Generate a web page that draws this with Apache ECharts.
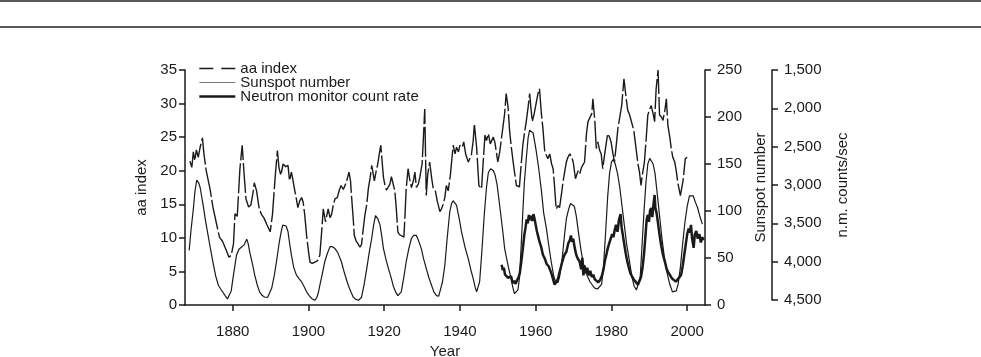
<!DOCTYPE html>
<html>
<head>
<meta charset="utf-8">
<script src="https://cdn.jsdelivr.net/npm/echarts@6/dist/echarts.min.js"></script>
<style>
html,body{margin:0;padding:0;background:#fff;}
#chart{width:981px;height:357px;}
</style>
</head>
<body>
<div id="chart"></div>
<script>
// ---- data ----
var xTickYears = [1880, 1900, 1920, 1940, 1960, 1980, 2000];

var aaIndex = [
[1868.7,21.4],[1869.2,20.5],[1869.6,22.8],[1870.0,21.5],[1870.4,23.1],[1870.9,22.0],[1871.4,23.5],[1872.0,24.9],[1872.4,22.5],[1873.0,20.0],
[1874.0,17.3],[1874.8,14.5],[1875.6,12.4],[1876.5,10.1],[1877.3,9.5],[1877.8,9.7],[1878.4,8.0],[1879.0,7.1],[1879.6,7.4],[1880.2,9.1],
[1880.6,13.6],[1881.2,13.2],[1881.9,20.3],[1882.5,23.8],[1883.0,19.5],[1883.5,15.8],[1884.2,14.6],[1884.8,14.9],[1885.3,16.5],[1885.7,18.2],
[1886.3,17.0],[1887.0,14.3],[1887.6,13.5],[1888.3,12.9],[1889.0,12.0],[1889.9,10.9],[1890.5,13.5],[1891.2,19.0],[1891.8,23.0],[1892.2,20.5],
[1892.7,19.3],[1893.3,21.0],[1894.0,20.6],[1894.6,20.8],[1895.0,18.5],[1895.5,19.8],[1895.9,18.6],[1896.4,17.0],[1896.8,15.8],[1897.2,14.5],
[1897.7,15.5],[1898.2,16.0],[1898.6,15.3],[1899.0,13.5],[1899.5,10.4],[1900.0,8.0],[1900.4,6.4],[1901.0,6.2],[1901.7,6.4],[1902.4,6.6],
[1903.0,7.4],[1903.5,11.0],[1903.9,14.3],[1904.5,12.4],[1904.9,13.5],[1905.2,14.3],[1905.7,13.0],[1906.1,13.5],[1906.6,15.0],[1907.0,15.8],
[1907.6,16.0],[1908.2,17.2],[1908.6,17.8],[1909.2,17.2],[1910.0,18.3],[1910.7,19.8],[1911.1,18.5],[1911.4,16.0],[1911.8,13.0],[1912.1,10.4],
[1912.6,9.5],[1913.1,9.1],[1913.6,8.6],[1914.0,9.0],[1914.5,11.5],[1914.9,13.4],[1915.4,15.0],[1915.8,17.3],[1916.3,19.0],[1916.7,20.8],
[1917.1,19.5],[1917.4,18.5],[1917.9,20.0],[1918.3,21.0],[1918.7,22.5],[1919.1,23.8],[1919.5,21.0],[1919.8,19.0],[1920.2,17.8],[1920.6,17.1],
[1921.0,17.5],[1921.5,18.0],[1921.9,19.1],[1922.4,19.0],[1922.8,17.0],[1923.2,14.3],[1923.6,10.9],[1924.0,10.5],[1924.5,10.4],[1925.2,10.1],
[1925.5,13.5],[1925.8,17.3],[1926.3,20.3],[1926.8,18.5],[1927.2,17.5],[1927.7,18.5],[1928.1,19.8],[1928.5,17.5],[1929.0,18.0],[1929.4,19.0],
[1930.0,21.0],[1930.3,24.3],[1930.7,29.2],[1931.1,16.3],[1931.5,19.5],[1932.0,21.3],[1932.5,19.0],[1932.9,17.5],[1933.5,17.0],[1934.0,15.5],
[1934.7,13.9],[1935.1,14.3],[1935.5,14.9],[1936.0,16.0],[1936.4,17.8],[1936.9,17.0],[1937.5,19.5],[1938.2,23.8],[1938.7,22.5],[1939.1,23.5],
[1939.6,22.8],[1940.0,23.8],[1940.6,23.5],[1941.0,24.3],[1941.5,22.5],[1942.2,21.3],[1943.0,22.3],[1943.5,24.5],[1943.8,27.0],[1944.4,23.5],
[1945.0,17.8],[1945.7,17.3],[1946.1,21.0],[1946.6,25.3],[1947.0,24.5],[1947.5,25.5],[1948.0,24.0],[1948.3,23.8],[1948.8,25.0],[1949.2,24.3],
[1950.0,21.3],[1950.5,22.8],[1951.3,26.3],[1951.8,28.5],[1952.2,31.5],[1952.7,29.5],[1953.1,26.0],[1953.5,23.8],[1954.0,21.5],[1954.4,19.8],
[1954.9,17.8],[1955.7,17.6],[1956.1,20.5],[1956.6,23.8],[1957.0,25.5],[1957.5,27.3],[1958.0,29.5],[1958.4,31.5],[1958.8,29.0],[1959.1,27.3],
[1959.6,28.5],[1960.2,30.3],[1960.6,31.5],[1961.0,32.2],[1961.5,28.5],[1961.9,26.3],[1962.4,22.8],[1962.8,22.3],[1963.2,21.8],[1963.7,22.5],
[1964.2,21.0],[1964.6,20.3],[1965.0,17.5],[1965.4,14.3],[1965.9,14.8],[1966.3,14.5],[1966.8,16.5],[1967.2,18.3],[1967.7,20.0],[1968.1,21.3],
[1968.5,22.0],[1969.0,22.5],[1969.5,22.0],[1969.9,21.3],[1970.5,18.8],[1970.9,19.5],[1971.2,20.0],[1971.6,19.5],[1972.1,20.5],[1972.9,21.3],
[1973.4,25.5],[1973.8,27.3],[1974.3,27.5],[1974.8,28.5],[1975.1,30.7],[1975.6,27.5],[1976.0,23.3],[1976.4,24.3],[1976.9,23.0],[1977.3,22.5],
[1977.7,20.3],[1978.1,22.0],[1978.6,24.0],[1979.0,25.5],[1979.5,25.0],[1979.9,24.3],[1980.4,22.5],[1980.8,21.3],[1981.3,24.0],[1981.7,26.3],
[1982.2,28.0],[1982.7,29.7],[1983.3,33.7],[1983.9,30.7],[1984.3,29.0],[1984.8,28.3],[1985.3,28.5],[1985.9,26.0],[1986.5,23.3],[1987.0,21.0],
[1987.4,19.8],[1987.8,17.8],[1988.2,19.5],[1988.7,21.3],[1989.2,25.0],[1989.6,28.3],[1990.0,29.0],[1990.5,29.7],[1991.0,28.5],[1991.4,27.3],
[1991.8,32.2],[1992.3,35.0],[1992.7,28.3],[1993.2,28.0],[1993.6,27.5],[1994.1,29.0],[1994.5,30.7],[1994.9,26.8],[1995.4,25.0],[1995.8,23.3],
[1996.2,22.0],[1996.7,21.3],[1997.1,20.0],[1997.5,18.3],[1998.2,16.3],[1998.9,18.5],[1999.5,21.8],[2000.0,22.0]
];

var sunspotNumber = [
[1868.5,58],[1869.0,80],[1869.6,102],[1870.0,120],[1870.5,133],[1871.0,130],[1871.4,125],[1872.2,106],[1872.8,90],[1873.5,74],
[1874.2,58],[1874.9,43],[1875.5,31],[1876.2,21],[1877.0,16],[1877.5,14],[1878.0,10],[1878.6,6.5],[1879.1,6.5],[1879.6,15],
[1880.2,32],[1881.0,53],[1881.6,59],[1882.4,62],[1883.0,64],[1883.7,70],[1884.1,65],[1884.5,56],[1885.2,44],[1885.8,32],
[1886.5,21],[1887.1,14],[1887.8,10],[1888.4,8.5],[1889.2,8],[1889.7,9],[1890.3,18],[1891.0,32],[1891.7,50],[1892.3,67],
[1892.8,78],[1893.2,85],[1893.7,87],[1894.1,84],[1894.6,78],[1895.0,66],[1895.5,53],[1896.1,40],[1896.8,32],[1897.5,28],
[1898.2,24.5],[1898.8,20],[1899.5,14],[1900.2,10],[1900.8,7],[1901.3,5],[1901.7,5],[1902.2,8],[1902.6,13],[1903.0,21],
[1903.6,32],[1904.3,46],[1905.0,55],[1905.7,62],[1906.3,62],[1907.0,60],[1907.7,56],[1908.7,46],[1909.5,34],[1910.5,21],
[1911.2,14],[1911.8,8.5],[1912.5,6],[1913.2,5],[1913.6,5],[1914.0,8],[1914.7,22],[1915.4,39],[1916.0,55],[1916.7,71],
[1917.2,85],[1917.7,95],[1918.3,92],[1918.9,85],[1919.4,72],[1919.8,60],[1920.5,48],[1921.1,39],[1921.9,28],[1922.4,20],
[1923.0,14],[1923.6,10],[1924.0,11],[1924.5,14],[1925.2,30],[1925.8,46],[1926.5,60],[1927.2,71],[1927.8,74],[1928.5,74],
[1929.1,68],[1929.8,60],[1930.4,49],[1931.1,39],[1931.8,29],[1932.5,21],[1933.1,14],[1933.8,10],[1934.4,9.5],[1934.9,11],
[1935.4,25],[1936.0,42],[1936.6,70],[1937.3,99],[1937.8,108],[1938.2,111],[1938.7,110],[1939.1,106],[1939.8,92],[1940.4,78],
[1941.3,62],[1942.2,49],[1942.9,37],[1943.5,28],[1944.0,19],[1944.4,14],[1944.8,15],[1945.2,25],[1945.8,58],[1946.4,95],
[1947.0,125],[1947.5,141],[1948.1,145],[1948.8,143],[1949.3,138],[1949.8,128],[1950.3,112],[1950.9,92],[1951.4,75],[1951.8,60],
[1952.3,50],[1952.7,42],[1953.1,35],[1953.5,28],[1954.0,18],[1954.4,12],[1954.9,10],[1955.3,16],[1955.7,28],[1956.1,58],
[1956.6,99],[1957.0,130],[1957.5,155],[1958.0,178],[1958.4,186],[1958.9,188],[1959.3,183],[1959.8,172],[1960.2,162],[1960.8,145],
[1961.5,122],[1962.1,98],[1962.8,82],[1963.5,62],[1964.1,46],[1964.8,30],[1965.3,24],[1965.9,24],[1966.3,30],[1967.0,50],
[1967.6,74],[1968.1,92],[1968.7,102],[1969.2,108],[1969.7,110],[1970.2,105],[1970.7,95],[1971.3,77],[1971.9,60],[1972.4,48],
[1972.9,39],[1973.6,31],[1974.3,25],[1975.0,21],[1975.6,18],[1976.3,17],[1976.8,17],[1977.4,22],[1977.9,40],[1978.5,80],
[1979.0,115],[1979.5,140],[1980.0,152],[1980.5,155],[1981.0,150],[1981.6,140],[1982.2,125],[1982.8,105],[1983.4,85],[1984.0,65],
[1984.7,48],[1985.4,30],[1986.0,20],[1986.6,16],[1987.1,16],[1987.6,30],[1988.1,65],[1988.6,100],[1989.1,130],[1989.6,150],
[1990.1,156],[1990.5,155],[1991.0,150],[1991.5,140],[1992.1,118],[1992.7,95],[1993.3,72],[1994.0,50],[1994.7,34],[1995.4,22],
[1996.1,14],[1996.6,12],[1997.1,15],[1997.6,22],[1998.2,40],[1998.8,65],[1999.4,88],[2000.0,105],[2000.6,116],[2001.1,117],
[2001.6,116],[2002.1,110],[2002.7,104],[2003.3,95],[2004.0,86]
];

var neutronCountRate = [
[1951.0,4040],[1951.3,4110],[1951.6,4080],[1951.9,4170],[1952.3,4150],[1952.7,4210],[1953.1,4220],[1953.5,4190],[1953.9,4280],[1954.3,4250],
[1954.7,4290],[1955.1,4240],[1955.5,4200],[1955.8,4150],[1956.2,4000],[1956.6,3830],[1957.0,3650],[1957.3,3560],[1957.6,3450],[1957.9,3500],
[1958.2,3390],[1958.5,3460],[1958.8,3400],[1959.1,3470],[1959.4,3380],[1959.7,3440],[1960.0,3520],[1960.3,3600],[1960.7,3680],[1961.0,3740],
[1961.4,3800],[1961.9,3910],[1962.4,3960],[1962.9,4030],[1963.4,4060],[1963.9,4120],[1964.3,4180],[1964.7,4250],[1965.0,4300],[1965.4,4270],
[1965.9,4220],[1966.4,4120],[1966.8,4040],[1967.3,3950],[1967.7,3900],[1968.1,3870],[1968.6,3760],[1969.0,3720],[1969.3,3660],[1969.6,3740],
[1969.9,3700],[1970.3,3820],[1970.7,3910],[1971.1,3960],[1971.6,4000],[1972.0,4100],[1972.3,3950],[1972.6,4180],[1972.9,4050],[1973.2,4150],
[1973.6,4080],[1974.0,4180],[1974.4,4120],[1974.8,4200],[1975.2,4170],[1975.6,4230],[1976.0,4240],[1976.5,4270],[1977.0,4240],[1977.5,4180],
[1977.9,4100],[1978.3,3980],[1978.7,3900],[1979.0,3830],[1979.4,3760],[1979.8,3700],[1980.2,3640],[1980.5,3680],[1980.9,3580],[1981.2,3520],
[1981.6,3610],[1982.0,3450],[1982.4,3380],[1982.7,3560],[1983.0,3650],[1983.4,3780],[1983.8,3900],[1984.2,4000],[1984.6,4080],[1985.0,4150],
[1985.5,4200],[1986.0,4240],[1986.5,4270],[1987.0,4300],[1987.4,4290],[1987.8,4200],[1988.2,4080],[1988.6,3900],[1989.0,3650],[1989.3,3450],
[1989.6,3390],[1989.9,3480],[1990.2,3330],[1990.5,3300],[1990.8,3420],[1991.1,3250],[1991.4,3130],[1991.6,3300],[1991.9,3360],[1992.3,3500],
[1992.7,3650],[1993.1,3780],[1993.6,3910],[1994.1,4000],[1994.6,4100],[1995.0,4140],[1995.5,4180],[1996.0,4220],[1996.5,4240],[1997.0,4260],
[1997.5,4260],[1998.0,4200],[1998.4,4170],[1998.8,4060],[1999.2,3920],[1999.6,3780],[2000.0,3640],[2000.4,3570],[2000.7,3620],[2001.0,3520],
[2001.3,3700],[2001.7,3820],[2002.0,3650],[2002.4,3600],[2002.8,3700],[2003.2,3640],[2003.6,3750],[2004.0,3680],[2004.3,3720]
];

// ---- chart ----
var FONT = '"Liberation Sans", Arial, Helvetica, sans-serif';
var INK = '#1a1a1a';
var chart = echarts.init(document.getElementById('chart'), null, {renderer: 'canvas'});

function yAxisBase() {
  return {
    axisLine: {show: true, lineStyle: {color: INK, width: 1.5}},
    axisTick: {show: true, inside: false, length: 6, lineStyle: {color: INK, width: 1.5}},
    axisLabel: {color: INK, fontFamily: FONT, fontSize: 15},
    splitLine: {show: false},
    nameTextStyle: {color: INK, fontFamily: FONT, fontSize: 15},
    nameLocation: 'middle',
    nameRotate: 90
  };
}

var yAA = Object.assign(yAxisBase(), {
  type: 'value', gridIndex: 0, position: 'left', min: 0, max: 35, interval: 5,
  name: 'aa index', nameGap: 34
});
yAA.axisLabel.margin = 8;

var ySS = Object.assign(yAxisBase(), {
  type: 'value', gridIndex: 0, position: 'right', min: 0, max: 250, interval: 50,
  name: 'Sunspot number', nameGap: 44
});
ySS.axisLabel.margin = 12;

var yNM = Object.assign(yAxisBase(), {
  type: 'value', gridIndex: 1, position: 'right', offset: 67, min: 1500, max: 4500, interval: 500,
  inverse: true, name: 'n.m. counts/sec', nameGap: 63
});
yNM.axisLabel.margin = 12;
yNM.axisLabel.formatter = function (v) { return v.toLocaleString('en-US'); };

var option = {
  animation: false,
  backgroundColor: '#ffffff',
  textStyle: {fontFamily: FONT},
  color: [INK, INK, INK],
  graphic: [
    {type: 'line', shape: {x1: 0, y1: 1, x2: 981, y2: 1}, style: {stroke: '#222', lineWidth: 1.5}},
    {type: 'line', shape: {x1: 0, y1: 27, x2: 981, y2: 27}, style: {stroke: '#222', lineWidth: 1.5}}
  ],
  legend: {
    orient: 'vertical', left: 193, top: 56, itemWidth: 36, itemHeight: 13, itemGap: -1,
    itemStyle: {opacity: 0},
    textStyle: {color: INK, fontFamily: FONT, fontSize: 15, lineHeight: 13},
    data: [
      {name: 'aa index', lineStyle: {type: [14, 8], width: 1.6, color: INK}},
      {name: 'Sunspot number', lineStyle: {width: 1.2, color: '#777'}},
      {name: 'Neutron monitor count rate', lineStyle: {width: 2.6, color: INK}}
    ]
  },
  grid: [
    {left: 185, right: 276, top: 70, bottom: 52, outerBoundsMode: 'none', containLabel: false},
    {left: 185, right: 276, top: 70, bottom: 57, outerBoundsMode: 'none', containLabel: false}
  ],
  xAxis: [
    {
      type: 'value', gridIndex: 0, min: 1867.4, max: 2004.7,
      name: 'Year', nameLocation: 'middle', nameGap: 38,
      nameTextStyle: {color: INK, fontFamily: FONT, fontSize: 15},
      axisLine: {show: true, onZero: false, lineStyle: {color: INK, width: 1.5}},
      axisTick: {show: true, inside: false, length: 6, customValues: xTickYears, lineStyle: {color: INK, width: 1.5}},
      axisLabel: {color: INK, fontFamily: FONT, fontSize: 15, margin: 19, customValues: xTickYears,
                  formatter: function (v) { return String(Math.round(v)); }},
      splitLine: {show: false}
    },
    {
      type: 'value', gridIndex: 1, min: 1867.4, max: 2004.7, show: false,
      axisLine: {show: false}, axisTick: {show: false}, axisLabel: {show: false}, splitLine: {show: false}
    }
  ],
  yAxis: [yAA, ySS, yNM],
  series: [
    {
      name: 'aa index', type: 'line', xAxisIndex: 0, yAxisIndex: 0, data: aaIndex,
      symbol: 'none', smooth: false, z: 3, itemStyle: {color: INK},
      lineStyle: {color: INK, width: 1.4, type: [30, 3]}
    },
    {
      name: 'Sunspot number', type: 'line', xAxisIndex: 0, yAxisIndex: 1, data: sunspotNumber,
      symbol: 'none', smooth: false, z: 2, itemStyle: {color: INK},
      lineStyle: {color: INK, width: 1.2}
    },
    {
      name: 'Neutron monitor count rate', type: 'line', xAxisIndex: 1, yAxisIndex: 2, data: neutronCountRate,
      symbol: 'none', smooth: false, z: 4, itemStyle: {color: INK},
      lineStyle: {color: INK, width: 2.5}
    }
  ]
};
chart.setOption(option);
</script>
</body>
</html>
